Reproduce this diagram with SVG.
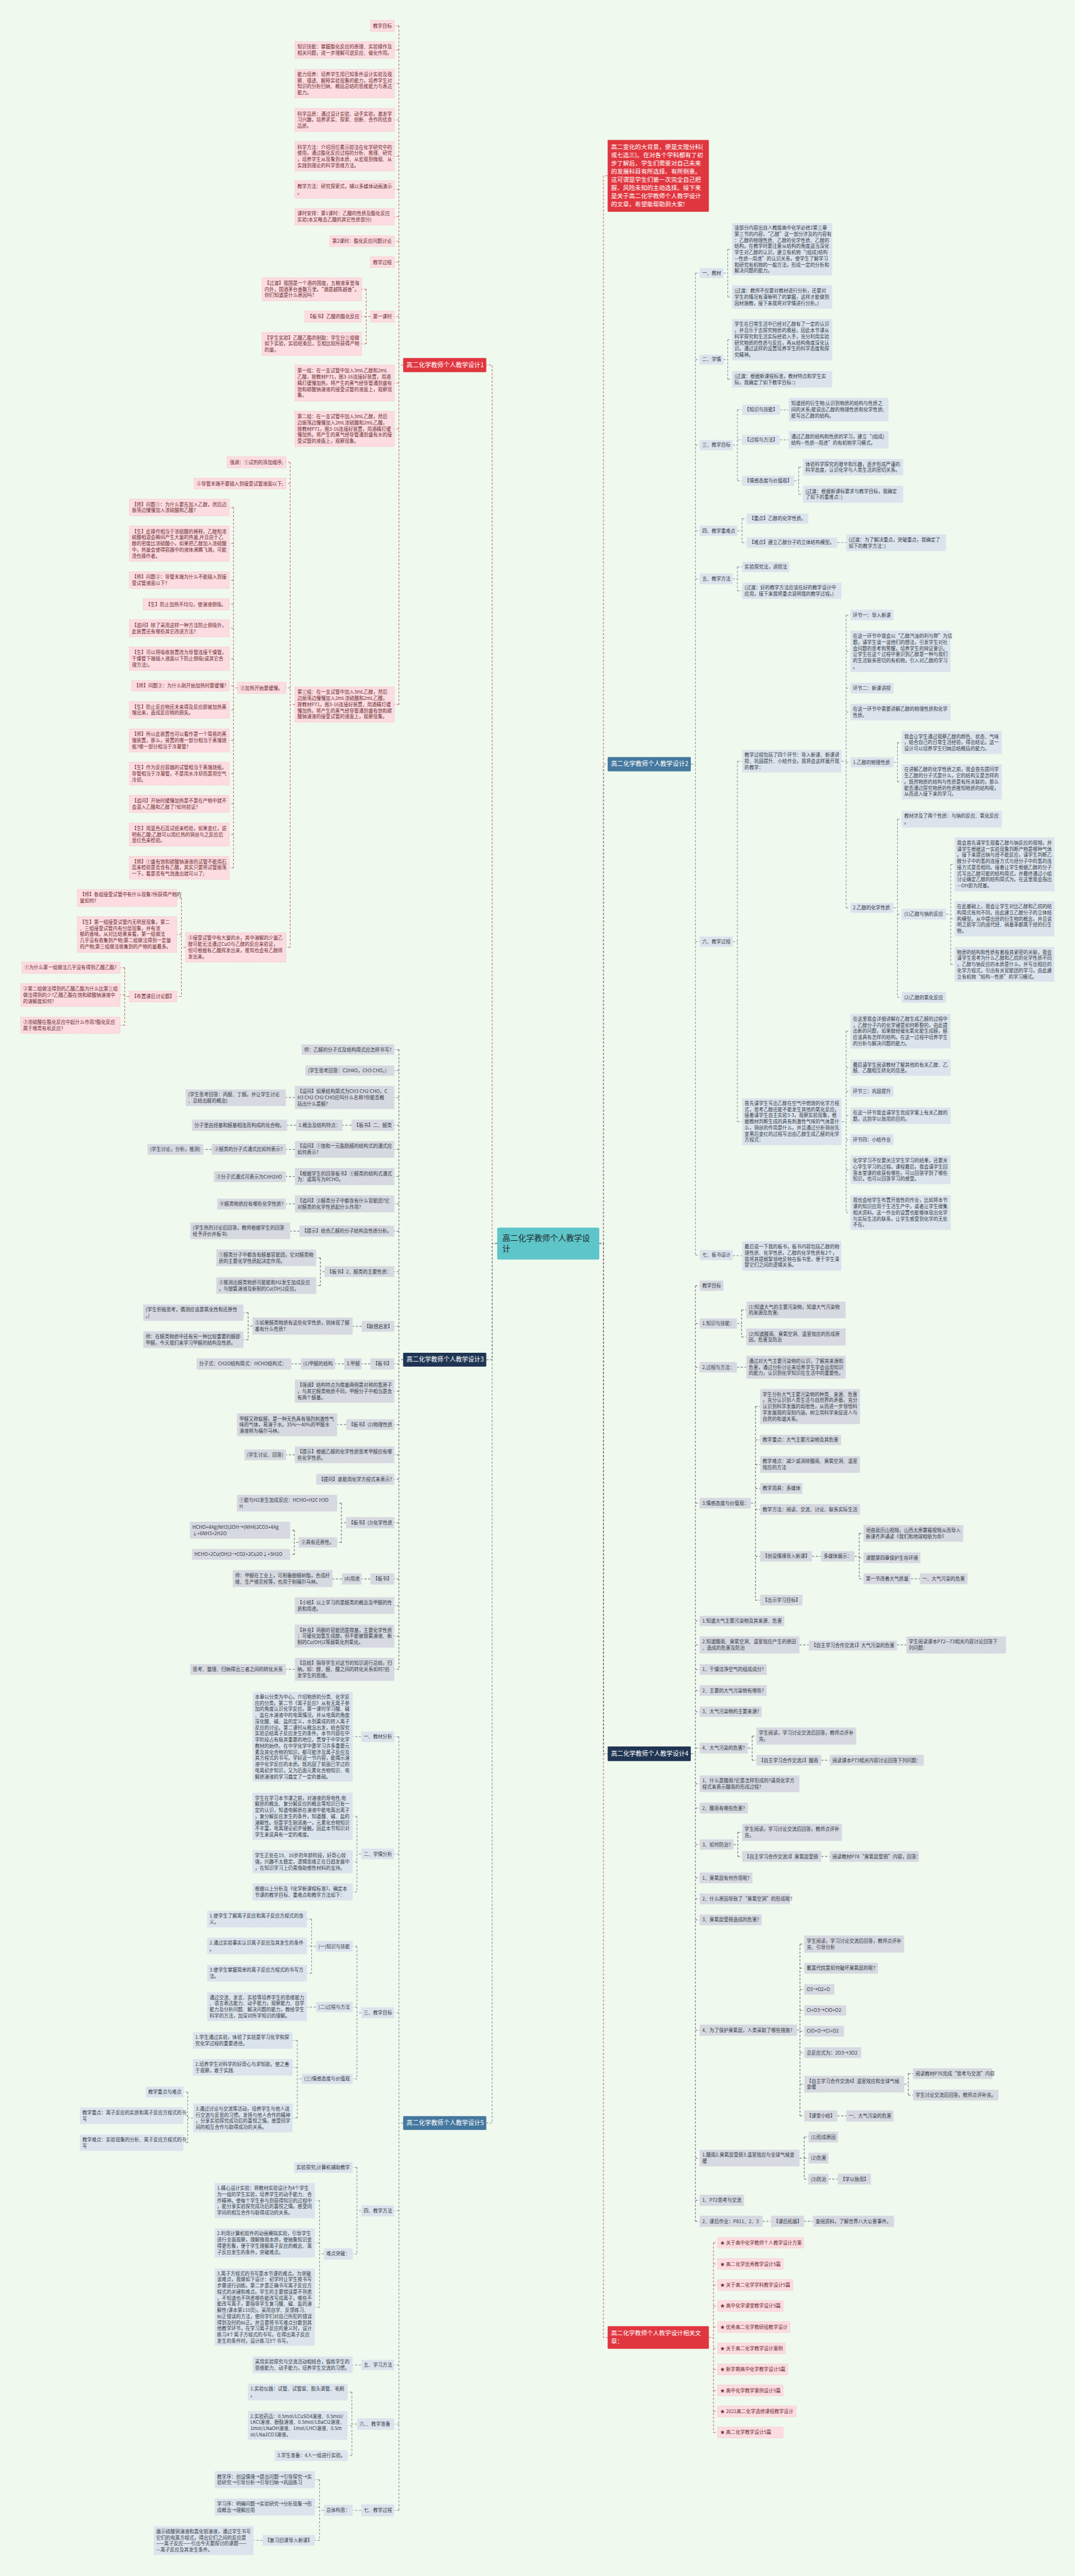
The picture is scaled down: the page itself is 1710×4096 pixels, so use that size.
<svg xmlns="http://www.w3.org/2000/svg" width="1710" height="4096" viewBox="0 0 1710 4096">
<style>
text{font-family:"Noto Sans CJK SC","Noto Sans",sans-serif;font-size:11.3px}
.p rect{fill:#fcdce1;stroke:#f4b9c2;stroke-width:1;stroke-dasharray:3 2}
.p text{fill:#6b2a2e}
.g rect{fill:#d6d9e0;stroke:#eef0f4;stroke-dasharray:3 2}
.g text{fill:#333a45}
.s rect{fill:#dbe4ec;stroke:#f0f4f8;stroke-dasharray:3 2}
.s text{fill:#333a45}
.m text{fill:#fff;font-size:14.7px}
#connectors path{fill:none;stroke-width:1.4;stroke-dasharray:5 4}
.cr{stroke:#c4505c}
.cn{stroke:#4f5869}
.cs{stroke:#6e8398}
</style>
<rect width="1710" height="4096" fill="#f0f9ee"/>
<g transform="scale(0.668)">
<g id="connectors">
<path class="cr" d="M1184 2960H1172V869H1158M1427 2960H1437V418.5H1447M1437 2960V5564H1447"/>
<path class="cn" d="M1184 2960H1172V3236.5H1158M1427 2960H1437V4174.5H1447"/>
<path class="cs" d="M1184 2960H1172V5053.5H1158M1427 2960H1437V1819H1447"/>
<path class="cr" d="M960 869H950M950 61.5V1677M950 61.5H939M950 119H939M950 199H939M950 285.5H939M950 372H939M950 451H939M950 516H939M950 574H939M950 624H939M950 753.5H939M950 912H939M950 1021H939M950 1677H939
M882 753.5H872M872 688.5V818.5M872 688.5H861M872 753.5H861M872 818.5H861
M702 1677H691M691 1100.5V2255M691 1100.5H681M691 1151H681M691 1637.5H681M691 2255H681
M566 1637.5H556M556 1208V2065.5M556 1208H546M556 1294H546M556 1381H546M556 1438.5H546M556 1495.5H546M556 1568H546M556 1632.5H546M556 1690H546M556 1762.5H546M556 1841.5H546M556 1913.5H546M556 1986.5H546M556 2065.5H546
M442 2255H432M432 2137.5V2372M432 2137.5H421M432 2224.5H421M432 2372H421
M308 2372H297M297 2303.5V2440.5M297 2303.5H286M297 2368H286M297 2440.5H286"/>
<path class="cn" d="M960 3236.5H950M950 2498.5V3973.5M950 2498.5H939M950 2548.5H939M950 2612.5H939M950 2678.5H939M950 2736H939M950 2800.5H939M950 2865.5H939M950 2930.5H939M950 3027H939M950 3157H939M950 3246.5H939M950 3311.5H939M950 3391H939M950 3463H939M950 3521H939M950 3624.5H939M950 3758.5H939M950 3822H939M950 3894.5H939M950 3973.5H939
M702 2612.5H681M837 2678.5H816M705 2678.5H684M702 2736H681M504 2736H484M702 2800.5H681M702 2865.5H681M713 2930.5H691
M773 3027H763M763 2994V3060M763 2994H753M763 3060H753
M861 3157H840M601 3156.5H591M591 3124.5V3189M591 3124.5H580M591 3189H580
M882 3246.5H861M819 3246.5H798M716 3246.5H694M824 3391H803M702 3463H681
M824 3624.5H813M813 3578V3671.5M813 3578H803M813 3671.5H803M711 3671.5H701M701 3642.5V3700M701 3642.5H691M701 3700H691
M882 3758.5H861M814 3758.5H792M702 3973.5H681"/>
<path class="cs" d="M960 5053.5H950M950 4134V5975.5M950 4134H939M950 4413H939M950 4791H939M950 5262.5H939M950 5629.5H939M950 5770H939M950 5975.5H939
M860 4134H840M860 4413H850M850 4323.5V4503.5M850 4323.5H840M850 4431.5H840M850 4503.5H840
M860 4791H850M850 4633V4948.5M850 4633H840M850 4777.5H840M850 4948.5H840
M752 4633H742M742 4568V4697M742 4568H731M742 4632H731M742 4697H731M752 4777.5H731
M718 4948.5H708M708 4857V5041.5M708 4857H697M708 4921H697M708 5041.5H697
M460 5041.5H447M447 4980V5100M447 4980H437M447 5036H437M447 5100H437
M860 5262.5H850M850 5159V5365M850 5159H840M850 5365H840M771 5365H761M761 5238V5492M761 5238H750M761 5339H750M761 5492H750
M860 5629.5H840M850 5770H838M838 5694V5845M838 5694H828M838 5773.5H828M838 5845H828
M860 5975.5H840M771 5975.5H761M761 5902.5V6047M761 5902.5H750M761 5967.5H750M761 6047H750M625 6047H604"/>
<path class="cs" d="M1645 1819H1656M1656 650V2987.5M1656 650H1666M1656 856H1666M1656 1059.5H1666M1656 1263.5H1666M1656 1378H1666M1656 2241.5H1666M1656 2987.5H1666
M1723 650H1733M1733 593.5V707M1733 593.5H1743M1733 707H1743M1723 856H1733M1733 808.5V903M1733 808.5H1743M1733 903H1743
M1745 1059.5H1756M1756 975.5V1144.5M1756 975.5H1767M1756 1047H1767M1756 1144.5H1767M1857 975.5H1878M1857 1047H1878M1891 1144.5H1902M1902 1112V1176.5M1902 1112H1912M1902 1176.5H1912
M1756 1263.5H1767M1767 1234.5V1291.5M1767 1234.5H1778M1767 1291.5H1778M1994 1291.5H2015
M1745 1378H1756M1756 1349.5V1406.5M1756 1349.5H1767M1756 1406.5H1767
M1745 2241.5H1756M1756 1812V2670M1756 1812H1767M1756 2670H1767
M2004 1812H2015M2015 1464V2161M2015 1464H2025M2015 1550.5H2025M2015 1638H2025M2015 1695H2025M2015 1814.5H2025M2015 2161H2025
M2128 1814.5H2137M2137 1767.5V1861M2137 1767.5H2147M2137 1861H2147
M2128 2161H2137M2137 1950V2374M2137 1950H2147M2137 2176H2147M2137 2374H2147
M2253 2176H2264M2264 2057.5V2295.5M2264 2057.5H2273M2264 2187H2273M2264 2295.5H2273
M2004 2670H2015M2015 2454.5V2886.5M2015 2454.5H2025M2015 2541.5H2025M2015 2598H2025M2015 2656H2025M2015 2713H2025M2015 2784.5H2025M2015 2886.5H2025
M1745 2989H1767"/>
<path class="cn" d="M1645 4174.5H1656M1656 3060.5V5287.5M1656 3060.5H1666M1656 3150.5H1666M1656 3254.5H1666M1656 3578H1666M1656 3858.5H1666M1656 3915.5H1666M1656 3974H1666M1656 4024H1666M1656 4074.5H1666M1656 4161H1666M1656 4246H1666M1656 4304H1666M1656 4390.5H1666M1656 4470H1666M1656 4520H1666M1656 4570H1666M1656 4832.5H1666M1656 5137H1666M1656 5237.5H1666M1656 5287.5H1666
M1755 3150.5H1766M1766 3118V3182.5M1766 3118H1777M1766 3182.5H1777M1755 3254.5H1777
M1788 3578H1799M1799 3348V3809M1799 3348H1810M1799 3427.5H1810M1799 3486H1810M1799 3543H1810M1799 3593H1810M1799 3704.5H1810M1799 3809H1810
M1934 3704.5H1955M2035 3704.5H2046M2046 3650V3758M2046 3650H2056M2046 3708H2056M2046 3758H2056M2169 3758H2190
M1904 3915.5H1926M2136 3915.5H2158
M1781 4161H1791M1791 4132.5V4190M1791 4132.5H1801M1791 4190H1801M1956 4190H1976
M1747 4390.5H1757M1757 4361.5V4419M1757 4361.5H1767M1757 4419H1767M1956 4419H1976
M1898 4832.5H1905M1905 4627.5V5036.5M1905 4627.5H1915M1905 4685H1915M1905 4735.5H1915M1905 4785.5H1915M1905 4835H1915M1905 4886H1915M1905 4961H1915M1905 5036.5H1915
M2153 4961H2163M2163 4936V4987M2163 4936H2174M2163 4987H2174M1994 5036.5H2015
M1904 5137H1915M1915 5087V5187M1915 5087H1925M1915 5137H1925M1915 5187H1925M1973 5187H1995
M1816 5287.5H1836M1915 5287.5H1936"/>
<path class="cr" d="M1688 5564H1699M1699 5338.5V5790M1699 5338.5H1709M1699 5389H1709M1699 5439H1709M1699 5489H1709M1699 5539H1709M1699 5590H1709M1699 5640H1709M1699 5690H1709M1699 5740H1709M1699 5790H1709"/>
</g>

<g id="center"><rect x="1184" y="2922" width="243" height="76" rx="3" fill="#5ec5c9"/><text x="1196" y="2954" fill="#1e2a30" style="font-size:19px">高二化学教师个人教学设<tspan x="1196" dy="25">计</tspan></text></g>

<g id="intro"><rect x="1447" y="333" width="241" height="171" rx="2" fill="#e0363f"/><text fill="#fff" style="font-size:14.3px" x="1455" y="355"><tspan x="1455">高二变化的大背景，便是文理分科(</tspan><tspan x="1455" dy="19.5">或七选三)。在对各个学科都有了初</tspan><tspan x="1455" dy="19.5">步了解后，学生们需要对自己未来</tspan><tspan x="1455" dy="19.5">的发展科目有所选择、有所侧重。</tspan><tspan x="1455" dy="19.5">这可谓是学生们第一次完全自己把</tspan><tspan x="1455" dy="19.5">握、风险未知的主动选择。接下来</tspan><tspan x="1455" dy="19.5">是关于高二化学教师个人教学设计</tspan><tspan x="1455" dy="19.5">的文章，希望能帮助到大家!</tspan></text></g>

<!-- Branch 1 -->
<g id="b1" class="m"><rect x="960" y="852" width="198" height="34" rx="2" fill="#e0363f"/><text x="968" y="874">高二化学教师个人教学设计1</text></g>
<g class="p">
<g id="b1-1"><rect x="882" y="48" width="57" height="27"/><text x="888" y="65.5">教学目标</text></g>
<g id="b1-2"><rect x="702" y="99" width="237" height="40"/><text x="708" y="115.7">知识技能：掌握酯化反应的原理、实验操作及<tspan x="708" dy="14.6">相关问题，进一步理解可逆反应、催化作用。</tspan></text></g>
<g id="b1-3"><rect x="702" y="165" width="237" height="68"/><text x="708" y="181.1">能力培养：培养学生用已知条件设计实验及观<tspan x="708" dy="14.6">察、描述、解释实验现象的能力，培养学生对</tspan><tspan x="708" dy="14.6">知识的分析归纳、概括总结的思维能力与表达</tspan><tspan x="708" dy="14.6">能力。</tspan></text></g>
<g id="b1-4"><rect x="702" y="258" width="237" height="55"/><text x="708" y="275">科学品质：通过设计实验、动手实验，激发学<tspan x="708" dy="14.6">习兴趣，培养求实、探索、创新、合作的优良</tspan><tspan x="708" dy="14.6">品质。</tspan></text></g>
<g id="b1-5"><rect x="702" y="337" width="237" height="70"/><text x="708" y="354.1">科学方法：介绍同位素示踪法在化学研究中的<tspan x="708" dy="14.6">使用，通过酯化反应过程的分析、推理、研究</tspan><tspan x="708" dy="14.6">，培养学生从现象到本质、从宏观到微观、从</tspan><tspan x="708" dy="14.6">实践到理论的科学思维方法。</tspan></text></g>
<g id="b1-6"><rect x="702" y="430" width="237" height="42"/><text x="708" y="447.7">教学方法：研究探索式，辅以多媒体动画演示<tspan x="708" dy="14.6">。</tspan></text></g>
<g id="b1-7"><rect x="702" y="496" width="237" height="40"/><text x="708" y="512.7">课时安排：第1课时：乙酸的性质及酯化反应<tspan x="708" dy="14.6">实验(本文略去乙酸的其它性质部分)</tspan></text></g>
<g id="b1-8"><rect x="785" y="561" width="154" height="26"/><text x="791" y="578">第2课时：酯化反应问题讨论</text></g>
<g id="b1-9"><rect x="882" y="611" width="57" height="26"/><text x="888" y="628">教学过程</text></g>
<g id="b1-10"><rect x="882" y="740" width="57" height="27"/><text x="888" y="757.5">第一课时</text></g>
<g id="b1-10a"><rect x="624" y="661" width="237" height="55"/><text x="630" y="678">【过渡】我国是一个酒的国度，五粮液享誉海<tspan x="630" dy="14.6">内外，国酒茅台香飘万里。“酒是越陈越香”。</tspan><tspan x="630" dy="14.6">你们知道是什么原因吗?</tspan></text></g>
<g id="b1-10b"><rect x="726" y="740" width="135" height="27"/><text x="732" y="757.5">【板书】乙酸的酯化反应</text></g>
<g id="b1-10c"><rect x="624" y="791" width="237" height="55"/><text x="630" y="808">【学生实验】乙酸乙酯的制取：学生分三组做<tspan x="630" dy="14.6">如下实验，实验结束后，互相比较所获得产物</tspan><tspan x="630" dy="14.6">的量。</tspan></text></g>
<g id="b1-11"><rect x="702" y="869" width="237" height="86"/><text x="708" y="886.8">第一组：在一支试管中加入3mL乙醇和2mL<tspan x="708" dy="14.6">乙酸，按教材P71，图3-16连接好装置，用酒</tspan><tspan x="708" dy="14.6">精灯缓慢加热，将产生的蒸气经导管通到盛有</tspan><tspan x="708" dy="14.6">饱和碳酸钠溶液的接受试管的液面上，观察现</tspan><tspan x="708" dy="14.6">象。</tspan></text></g>
<g id="b1-12"><rect x="702" y="979" width="237" height="84"/><text x="708" y="995.8">第二组：在一支试管中加入3mL乙醇，然后<tspan x="708" dy="14.6">边振荡边慢慢加入2mL浓硫酸和2mL乙酸，</tspan><tspan x="708" dy="14.6">按教材P71，图3-16连接好装置，用酒精灯缓</tspan><tspan x="708" dy="14.6">慢加热，将产生的蒸气经导管通到盛有水的接</tspan><tspan x="708" dy="14.6">受试管的液面上，观察现象。</tspan></text></g>
<g id="b1-13"><rect x="702" y="1635" width="237" height="84"/><text x="708" y="1651.8">第三组：在一支试管中加入3mL乙醇，然后<tspan x="708" dy="14.6">边振荡边慢慢加入2mL浓硫酸和2mL乙酸，</tspan><tspan x="708" dy="14.6">按教材P71，图3-16连接好装置，用酒精灯缓</tspan><tspan x="708" dy="14.6">慢加热，将产生的蒸气经导管通到盛有饱和碳</tspan><tspan x="708" dy="14.6">酸钠溶液的接受试管的液面上，观察现象。</tspan></text></g>
<g id="b1-13a"><rect x="541" y="1087" width="140" height="27"/><text x="547" y="1104.5">强调：①试剂的添加顺序;</text></g>
<g id="b1-13b"><rect x="462" y="1138" width="219" height="26"/><text x="468" y="1155">②导管末端不要插入到接受试管液面以下;</text></g>
<g id="b1-13c"><rect x="566" y="1624" width="115" height="27"/><text x="572" y="1641.5">③加热开始要缓慢。</text></g>
<g id="b1-c1"><rect x="308" y="1188" width="238" height="40"/><text x="314" y="1204.7">【师】问题①：为什么要先加入乙醇，然后边<tspan x="314" dy="14.6">振荡边慢慢加入浓硫酸和乙酸?</tspan></text></g>
<g id="b1-c2"><rect x="308" y="1252" width="238" height="84"/><text x="314" y="1268.8">【生】此操作相当于浓硫酸的稀释，乙醇和浓<tspan x="314" dy="14.6">硫酸相混会瞬间产生大量的热量,并且由于乙</tspan><tspan x="314" dy="14.6">醇的密度比浓硫酸小，如果把乙醇加入浓硫酸</tspan><tspan x="314" dy="14.6">中，热量会使得容器中的液体沸腾飞溅，可能</tspan><tspan x="314" dy="14.6">烫伤操作者。</tspan></text></g>
<g id="b1-c3"><rect x="308" y="1361" width="238" height="40"/><text x="314" y="1377.7">【师】问题②：导管末端为什么不能插入到接<tspan x="314" dy="14.6">受试管液面以下?</tspan></text></g>
<g id="b1-c4"><rect x="341" y="1425" width="205" height="27"/><text x="347" y="1442.5">【生】防止加热不均匀，使溶液倒吸。</text></g>
<g id="b1-c5"><rect x="308" y="1475" width="238" height="41"/><text x="314" y="1492.2">【追问】除了采用这样一种方法防止倒吸外，<tspan x="314" dy="14.6">此装置还有哪些其它改进方法?</tspan></text></g>
<g id="b1-c6"><rect x="308" y="1540" width="238" height="56"/><text x="314" y="1557.4">【生】可以将吸收装置改为导管连接干燥管，<tspan x="314" dy="14.6">干燥管下端插入液面以下防止倒吸(或其它合</tspan><tspan x="314" dy="14.6">理方法)。</tspan></text></g>
<g id="b1-c7"><rect x="313" y="1620" width="233" height="25"/><text x="319" y="1636.5">【师】问题③：为什么刚开始加热时要缓慢?</text></g>
<g id="b1-c8"><rect x="308" y="1670" width="238" height="40"/><text x="314" y="1686.7">【生】防止反应物还未来得及反应即被加热蒸<tspan x="314" dy="14.6">馏出来，造成反应物的损失。</tspan></text></g>
<g id="b1-c9"><rect x="308" y="1735" width="238" height="55"/><text x="314" y="1752">【师】所以此装置也可以看作是一个简易的蒸<tspan x="314" dy="14.6">馏装置，那么，装置的哪一部分相当于蒸馏烧</tspan><tspan x="314" dy="14.6">瓶?哪一部分相当于冷凝管?</tspan></text></g>
<g id="b1-c10"><rect x="308" y="1814" width="238" height="55"/><text x="314" y="1831">【生】作为反应容器的试管相当于蒸馏烧瓶，<tspan x="314" dy="14.6">导管相当于冷凝管，不是用水冷却而是用空气</tspan><tspan x="314" dy="14.6">冷却。</tspan></text></g>
<g id="b1-c11"><rect x="308" y="1893" width="238" height="41"/><text x="314" y="1910.2">【追问】开始时缓慢加热是不是在产物中就不<tspan x="314" dy="14.6">会混入乙酸和乙醇了?如何验证?</tspan></text></g>
<g id="b1-c12"><rect x="308" y="1959" width="238" height="55"/><text x="314" y="1976">【生】用蓝色石蕊试纸来检验，如果变红，说<tspan x="314" dy="14.6">明有乙酸;乙醇可以用红热的铜丝与之反应后</tspan><tspan x="314" dy="14.6">显红色来检验。</tspan></text></g>
<g id="b1-c13"><rect x="308" y="2038" width="238" height="55"/><text x="314" y="2055">【师】①盛有饱和碳酸钠溶液的试管不能用石<tspan x="314" dy="14.6">蕊来检验是否含有乙酸，其实只要将试管振荡</tspan><tspan x="314" dy="14.6">一下，看是否有气泡逸出就可以了;</tspan></text></g>
<g id="b1-13d"><rect x="442" y="2220" width="239" height="70"/><text x="448" y="2237.1">②接受试管中有大量的水，其中溶解的少量乙<tspan x="448" dy="14.6">醇可能无法通过CuO与乙醇的反应来验证，</tspan><tspan x="448" dy="14.6">但可根据有乙酸挥发出来，推知也会有乙醇挥</tspan><tspan x="448" dy="14.6">发出来。</tspan></text></g>
<g id="b1-d1"><rect x="184" y="2117" width="237" height="41"/><text x="190" y="2133.7">【师】各组接受试管中有什么现象?所获得产物的<tspan x="190" dy="14.6">量如何?</tspan></text></g>
<g id="b1-d2"><rect x="184" y="2182" width="237" height="85"/><text x="190" y="2198.8">【生】第一组接受试管内无明显现象，第二<tspan x="190" dy="14.6">、三组接受试管内有分层现象，并有浓</tspan><tspan x="190" dy="14.6">郁的香味。从对比结果来看，第一组做法</tspan><tspan x="190" dy="14.6">几乎没有收集到产物;第二组做法得到一定量</tspan><tspan x="190" dy="14.6">的产物;第三组做法收集到的产物的量最多。</tspan></text></g>
<g id="b1-d3"><rect x="308" y="2359" width="113" height="26"/><text x="314" y="2376">【布置课后讨论题】</text></g>
<g id="b1-d3a"><rect x="52" y="2290" width="234" height="27"/><text x="58" y="2307.5">①为什么第一组做法几乎没有得到乙酸乙酯?</text></g>
<g id="b1-d3b"><rect x="49" y="2341" width="237" height="55"/><text x="55" y="2358">②第二组做法得到的乙酸乙酯为什么比第三组<tspan x="55" dy="14.6">做法得到的少?乙酸乙酯在饱和碳酸钠溶液中</tspan><tspan x="55" dy="14.6">的溶解度如何?</tspan></text></g>
<g id="b1-d3c"><rect x="49" y="2421" width="237" height="39"/><text x="55" y="2437.2">③浓硫酸在酯化反应中起什么作用?酯化反应<tspan x="55" dy="14.6">属于哪类有机反应?</tspan></text></g>
</g>

<!-- Branch 3 -->
<g id="b3" class="m"><rect x="960" y="3220" width="198" height="33" rx="2" fill="#1f3553"/><text x="968" y="3241.5">高二化学教师个人教学设计3</text></g>
<g class="g">
<g id="b3-1"><rect x="718" y="2486" width="221" height="25"/><text x="724" y="2502.5">师：乙醛的分子式及结构简式应怎样书写?</text></g>
<g id="b3-2"><rect x="727" y="2536" width="212" height="25"/><text x="733" y="2552.5">(学生思考回答：C2H4O，CH3 CHO。)</text></g>
<g id="b3-3"><rect x="702" y="2585" width="237" height="55"/><text x="708" y="2602">【设问】如果结构简式为CH3 CH2 CHO，C<tspan x="708" dy="14.6">H3 CH2 CH2 CHO应叫什么名称?你能否概</tspan><tspan x="708" dy="14.6">括出什么是醛?</tspan></text></g>
<g id="b3-3c"><rect x="442" y="2593" width="239" height="40"/><text x="448" y="2609.7">(学生思考回答：丙醛、丁醛。并让学生讨论<tspan x="448" dy="14.6">、总结出醛的概念)</tspan></text></g>
<g id="b3-4"><rect x="837" y="2665" width="102" height="27"/><text x="843" y="2682.5">【板书】二、醛类</text></g>
<g id="b3-4c"><rect x="705" y="2665" width="111" height="27"/><text x="711" y="2682.5">1.概念及结构特点：</text></g>
<g id="b3-4cc"><rect x="457" y="2665" width="227" height="27"/><text x="463" y="2682.5">分子里由烃基和醛基相连而构成的化合物。</text></g>
<g id="b3-5"><rect x="702" y="2716" width="237" height="40"/><text x="708" y="2732.7">【设问】①饱和一元脂肪醛的结构式的通式应<tspan x="708" dy="14.6">如何表示?</tspan></text></g>
<g id="b3-5c"><rect x="504" y="2723" width="177" height="26"/><text x="510" y="2740">②醛类的分子式通式应如何表示?</text></g>
<g id="b3-5cc"><rect x="351" y="2723" width="133" height="26"/><text x="357" y="2740">(学生讨论，分析，推测)</text></g>
<g id="b3-6"><rect x="702" y="2780" width="237" height="41"/><text x="708" y="2797.2">【根据学生的回答板书】①醛类的结构式通式<tspan x="708" dy="14.6">为：或简写为RCHO。</tspan></text></g>
<g id="b3-6c"><rect x="509" y="2788" width="172" height="26"/><text x="515" y="2805">②分子式通式可表示为CnH2nO</text></g>
<g id="b3-7"><rect x="702" y="2845" width="237" height="41"/><text x="708" y="2862.2">【追问】③醛类分子中都含有什么官能团?它<tspan x="708" dy="14.6">对醛类的化学性质起什么作用?</tspan></text></g>
<g id="b3-7c"><rect x="517" y="2853" width="164" height="26"/><text x="523" y="2870">④醛类物质应有哪些化学性质?</text></g>
<g id="b3-8"><rect x="713" y="2917" width="226" height="27"/><text x="719" y="2934.5">【提示】结合乙醛的分子结构及性质分析。</text></g>
<g id="b3-8c"><rect x="453" y="2910" width="238" height="40"/><text x="459" y="2926.7">(学生热烈讨论后回答，教师根据学生的回答<tspan x="459" dy="14.6">给予评价并板书)</tspan></text></g>
<g id="b3-9"><rect x="773" y="3014" width="166" height="26"/><text x="779" y="3031">【板书】2、醛类的主要性质：</text></g>
<g id="b3-9a"><rect x="515" y="2974" width="238" height="40"/><text x="521" y="2990.7">①醛类分子中都含有醛基官能团，它对醛类物<tspan x="521" dy="14.6">质的主要化学性质起决定作用。</tspan></text></g>
<g id="b3-9b"><rect x="515" y="3040" width="238" height="40"/><text x="521" y="3056.7">②推测出醛类物质可能能和H2发生加成反应<tspan x="521" dy="14.6">，与银氨溶液及新制的Cu(OH)2反应。</tspan></text></g>
<g id="b3-10"><rect x="861" y="3144" width="78" height="26"/><text x="867" y="3161">【联想启发】</text></g>
<g id="b3-10c"><rect x="601" y="3136" width="239" height="41"/><text x="607" y="3153.2">⑤如果醛类物质有这些化学性质，则体现了醛<tspan x="607" dy="14.6">基有什么性质?</tspan></text></g>
<g id="b3-10a"><rect x="341" y="3105" width="239" height="39"/><text x="347" y="3121.2">(学生积极思考，猜测应该是氧化性和还原性<tspan x="347" dy="14.6">。)</tspan></text></g>
<g id="b3-10b"><rect x="341" y="3169" width="239" height="40"/><text x="347" y="3185.7">师：在醛类物质中还有另一种比较重要的醛即<tspan x="347" dy="14.6">甲醛，今天我们来学习甲醛的结构及性质。</tspan></text></g>
<g id="b3-11"><rect x="882" y="3233" width="57" height="27"/><text x="888" y="3250.5">【板书】</text></g>
<g id="b3-11a"><rect x="819" y="3233" width="42" height="27"/><text x="825" y="3250.5">3.甲醛</text></g>
<g id="b3-11b"><rect x="716" y="3233" width="82" height="27"/><text x="722" y="3250.5">(1)甲醛的结构</text></g>
<g id="b3-11c"><rect x="468" y="3233" width="226" height="27"/><text x="474" y="3250.5">分子式：CH2O结构简式：HCHO结构式：</text></g>
<g id="b3-12"><rect x="702" y="3284" width="237" height="55"/><text x="708" y="3301">【强调】结构特点为羰基两侧是对称的氢原子<tspan x="708" dy="14.6">，与其它醛类物质不同，甲醛分子中相当是含</tspan><tspan x="708" dy="14.6">有两个醛基。</tspan></text></g>
<g id="b3-13"><rect x="824" y="3378" width="115" height="26"/><text x="830" y="3395">【板书】(2)物理性质</text></g>
<g id="b3-13c"><rect x="564" y="3364" width="239" height="55"/><text x="570" y="3381">甲醛又称蚁醛，是一种无色具有强烈刺激性气<tspan x="570" dy="14.6">味的气体，易溶于水。35%～40%的甲醛水</tspan><tspan x="570" dy="14.6">溶液称为福尔马林。</tspan></text></g>
<g id="b3-14"><rect x="702" y="3443" width="237" height="40"/><text x="708" y="3459.7">【提示】根据乙醛的化学性质思考甲醛应有哪<tspan x="708" dy="14.6">些化学性质。</tspan></text></g>
<g id="b3-14c"><rect x="582" y="3450" width="99" height="26"/><text x="588" y="3467">(学生讨论、回答)</text></g>
<g id="b3-15"><rect x="753" y="3508" width="186" height="26"/><text x="759" y="3525">【提问】谁能用化学方程式来表示?</text></g>
<g id="b3-16"><rect x="824" y="3611" width="115" height="27"/><text x="830" y="3628.5">【板书】(3)化学性质</text></g>
<g id="b3-16a"><rect x="564" y="3558" width="239" height="40"/><text x="570" y="3574.7">①能与H2发生加成反应：HCHO+H2C H3O<tspan x="570" dy="14.6">H</tspan></text></g>
<g id="b3-16b"><rect x="711" y="3659" width="92" height="25"/><text x="717" y="3675.5">②具有还原性。</text></g>
<g id="b3-16b1"><rect x="452" y="3622" width="239" height="41"/><text x="458" y="3639.2">HCHO+4Ag(NH3)2OH→(NH4)2CO3+4Ag<tspan x="458" dy="14.6">↓+6NH3+2H2O</tspan></text></g>
<g id="b3-16b2"><rect x="457" y="3687" width="234" height="26"/><text x="463" y="3704">HCHO+2Cu(OH)2→CO2+2Cu2O↓+5H2O</text></g>
<g id="b3-17"><rect x="882" y="3745" width="57" height="27"/><text x="888" y="3762.5">【板书】</text></g>
<g id="b3-17a"><rect x="814" y="3745" width="47" height="27"/><text x="820" y="3762.5">(4)用途</text></g>
<g id="b3-17b"><rect x="554" y="3737" width="238" height="41"/><text x="560" y="3754.2">师：甲醛在工业上，可制备酚醛树脂，合成纤<tspan x="560" dy="14.6">维、生产维尼纶等，也用于制福尔马林。</tspan></text></g>
<g id="b3-18"><rect x="702" y="3802" width="237" height="40"/><text x="708" y="3818.7">【小结】以上学习的是醛类的概念及甲醛的性<tspan x="708" dy="14.6">质和用途。</tspan></text></g>
<g id="b3-19"><rect x="702" y="3867" width="237" height="55"/><text x="708" y="3884">【补充】丙酮的官能团是羰基，主要化学性质<tspan x="708" dy="14.6">：可催化加氢生成醇，但不能被银氨溶液、新</tspan><tspan x="708" dy="14.6">制的Cu(OH)2等弱氧化剂氧化。</tspan></text></g>
<g id="b3-20"><rect x="702" y="3946" width="237" height="55"/><text x="708" y="3963">【总结】指导学生对这节的知识进行总结，归<tspan x="708" dy="14.6">纳。如：醇、醛、酸之间的转化关系如何?启</tspan><tspan x="708" dy="14.6">发学生的思维。</tspan></text></g>
<g id="b3-20c"><rect x="453" y="3961" width="228" height="26"/><text x="459" y="3978">思考、整理、归纳得出三者之间的转化关系</text></g>
</g>

<!-- Branch 5 -->
<g id="b5" class="m"><rect x="960" y="5037" width="198" height="33" rx="2" fill="#44789e"/><text x="968" y="5058.5">高二化学教师个人教学设计5</text></g>
<g class="s">
<g id="b5-1"><rect x="860" y="4121" width="79" height="26"/><text x="866" y="4138">一、教材分析</text></g>
<g id="b5-1c"><rect x="601" y="4027" width="239" height="214"/><text x="607" y="4043.1">本章以分类为中心，介绍物质的分类、化学反<tspan x="607" dy="14.6">应的分类。第二节《离子反应》从有无离子参</tspan><tspan x="607" dy="14.6">加的角度认识化学反应。第一课时学习酸、碱</tspan><tspan x="607" dy="14.6">、盐在水溶液中的电离情况，并从电离的角度</tspan><tspan x="607" dy="14.6">深化酸、碱、盐的定义，水到渠成的转入离子</tspan><tspan x="607" dy="14.6">反应的讨论。第二课时从概念出发，结合探究</tspan><tspan x="607" dy="14.6">实验总结离子反应发生的条件。本节内容在中</tspan><tspan x="607" dy="14.6">学阶段占有极其重要的地位，贯穿于中学化学</tspan><tspan x="607" dy="14.6">教材的始终。在中学化学中要学习许多重要元</tspan><tspan x="607" dy="14.6">素及其化合物的知识，都可能涉及离子反应及</tspan><tspan x="607" dy="14.6">其方程式的书写。学好这一节内容，能揭示溶</tspan><tspan x="607" dy="14.6">液中化学反应的本质。既巩固了前面已学过的</tspan><tspan x="607" dy="14.6">电离初步知识，又为后面元素化合物知识、电</tspan><tspan x="607" dy="14.6">解质溶液的学习奠定了一定的基础。</tspan></text></g>
<g id="b5-2"><rect x="860" y="4400" width="79" height="26"/><text x="866" y="4417">二、学情分析</text></g>
<g id="b5-2a"><rect x="601" y="4267" width="239" height="113"/><text x="607" y="4283.7">学生在学习本节课之前，对溶液的导电性,电<tspan x="607" dy="14.6">解质的概念、复分解反应的概念等知识已有一</tspan><tspan x="607" dy="14.6">定的认识，知道电解质在溶液中能电离出离子</tspan><tspan x="607" dy="14.6">，复分解反应发生的条件，知道酸、碱、盐的</tspan><tspan x="607" dy="14.6">溶解性。但是学生刚进高一，元素化合物知识</tspan><tspan x="607" dy="14.6">不丰富，电离理论初步接触，因此本节知识对</tspan><tspan x="607" dy="14.6">学生来说具有一定的难度。</tspan></text></g>
<g id="b5-2b"><rect x="601" y="4404" width="239" height="55"/><text x="607" y="4421">学生正处在15、16岁的年龄阶段，好奇心较<tspan x="607" dy="14.6">强，兴趣不太稳定，逻辑思维正在日趋发展中</tspan><tspan x="607" dy="14.6">，在知识学习上仍需借助感性材料的支持。</tspan></text></g>
<g id="b5-2c"><rect x="601" y="4483" width="239" height="41"/><text x="607" y="4500.2">根据以上分析及《化学新课程标准》，确定本<tspan x="607" dy="14.6">节课的教学目标、重难点和教学方法如下：</tspan></text></g>
<g id="b5-3"><rect x="860" y="4778" width="79" height="26"/><text x="866" y="4795">三、教学目标</text></g>
<g id="b5-3a"><rect x="752" y="4620" width="88" height="26"/><text x="758" y="4637">(一)知识与技能</text></g>
<g id="b5-3a1"><rect x="493" y="4548" width="238" height="40"/><text x="499" y="4564.7">1.使学生了解离子反应和离子反应方程式的含<tspan x="499" dy="14.6">义。</tspan></text></g>
<g id="b5-3a2"><rect x="493" y="4612" width="238" height="40"/><text x="499" y="4628.7">2.通过实验事实认识离子反应及其发生的条件<tspan x="499" dy="14.6">。</tspan></text></g>
<g id="b5-3a3"><rect x="493" y="4677" width="238" height="40"/><text x="499" y="4693.7">3.使学生掌握简单的离子反应方程式的书写方<tspan x="499" dy="14.6">法。</tspan></text></g>
<g id="b5-3b"><rect x="752" y="4765" width="88" height="25"/><text x="758" y="4781.5">(二)过程与方法</text></g>
<g id="b5-3b1"><rect x="493" y="4742" width="238" height="69"/><text x="499" y="4758.6">通过交流、发言、实验等培养学生的思维能力<tspan x="499" dy="14.6">、语言表达能力、动手能力，观察能力、自学</tspan><tspan x="499" dy="14.6">能力及分析问题、解决问题的能力，教给学生</tspan><tspan x="499" dy="14.6">科学的方法，加深对所学知识的理解。</tspan></text></g>
<g id="b5-3c"><rect x="718" y="4936" width="122" height="25"/><text x="724" y="4952.5">(三)情感态度与价值观</text></g>
<g id="b5-3c1"><rect x="459" y="4837" width="238" height="40"/><text x="465" y="4853.7">1.学生通过实验，体验了实验是学习化学和探<tspan x="465" dy="14.6">究化学过程的重要途径。</tspan></text></g>
<g id="b5-3c2"><rect x="459" y="4901" width="238" height="40"/><text x="465" y="4917.7">2.培养学生对科学的好奇心与求知欲，使之善<tspan x="465" dy="14.6">于观察，敢于实践.</tspan></text></g>
<g id="b5-3c3"><rect x="460" y="5007" width="237" height="69"/><text x="466" y="5023.6">3.通过讨论与交流等活动，培养学生与他人进<tspan x="466" dy="14.6">行交流与反思的习惯。发扬与他人合作的精神</tspan><tspan x="466" dy="14.6">，分享实验探究成功后的喜悦之情。感受同学</tspan><tspan x="466" dy="14.6">间的相互合作与取得成功的关系。</tspan></text></g>
<g id="b5-3c3a"><rect x="347" y="4967" width="90" height="26"/><text x="353" y="4984">教学重点与难点</text></g>
<g id="b5-3c3b"><rect x="190" y="5016" width="247" height="40"/><text x="196" y="5032.7">教学重点：离子反应的实质和离子反应方程式的书<tspan x="196" dy="14.6">写</tspan></text></g>
<g id="b5-3c3c"><rect x="190" y="5081" width="247" height="39"/><text x="196" y="5097.2">教学难点：实验现象的分析、离子反应方程式的书<tspan x="196" dy="14.6">写</tspan></text></g>
<g id="b5-4"><rect x="860" y="5249" width="79" height="27"/><text x="866" y="5266.5">四、教学方法</text></g>
<g id="b5-4a"><rect x="700" y="5146" width="140" height="26"/><text x="706" y="5163">实验探究;计算机辅助教学</text></g>
<g id="b5-4b"><rect x="771" y="5351" width="69" height="28"/><text x="777" y="5369">难点突破：</text></g>
<g id="b5-4b1"><rect x="511" y="5196" width="239" height="84"/><text x="517" y="5212.8">1.精心设计实验：将教材实验设计为4个学生<tspan x="517" dy="14.6">为一组的学生实验，培养学生的动手能力、合</tspan><tspan x="517" dy="14.6">作精神。使每个学生参与到获得知识的过程中</tspan><tspan x="517" dy="14.6">，能分享实验探究成功后的喜悦之情。感受同</tspan><tspan x="517" dy="14.6">学间的相互合作与取得成功的关系。</tspan></text></g>
<g id="b5-4b2"><rect x="511" y="5304" width="239" height="70"/><text x="517" y="5321.1">2.利用计算机软件的动画模拟实验，引导学生<tspan x="517" dy="14.6">进行全面观察，理解微观本质，使抽象知识变</tspan><tspan x="517" dy="14.6">得更形象，便于学生理解离子反应的概念、离</tspan><tspan x="517" dy="14.6">子反应发生的条件，突破难点。</tspan></text></g>
<g id="b5-4b3"><rect x="511" y="5400" width="239" height="184"/><text x="517" y="5415.7">3.离子方程式的书写是本节课的难点。为突破<tspan x="517" dy="14.6">该难点，我做如下设计：初学时让学生按书写</tspan><tspan x="517" dy="14.6">步骤进行训练。第二步是正确书写离子反应方</tspan><tspan x="517" dy="14.6">程式的关键和难点。学生的主要错误是不熟悉</tspan><tspan x="517" dy="14.6">，不知道也不熟悉哪些能改写成离子，哪些不</tspan><tspan x="517" dy="14.6">能改写离子，要指导学生复习酸、碱、盐的溶</tspan><tspan x="517" dy="14.6">解性(课本第110页)。采用自学、反馈练习、</tspan><tspan x="517" dy="14.6">纠正错误的方法，使同学们对自己所犯的错误</tspan><tspan x="517" dy="14.6">得到及时的纠正。并且要将书写难点分散到其</tspan><tspan x="517" dy="14.6">他教学环节，在学习离子反应的意义时，设计</tspan><tspan x="517" dy="14.6">练习4个离子方程式的书写。在得出离子反应</tspan><tspan x="517" dy="14.6">发生的条件时，设计练习3个书写。</tspan></text></g>
<g id="b5-5"><rect x="860" y="5617" width="79" height="25"/><text x="866" y="5633.5">五、学习方法</text></g>
<g id="b5-5c"><rect x="601" y="5609" width="239" height="40"/><text x="607" y="5625.7">采用实验探究与交流活动相结合，锻炼学生的<tspan x="607" dy="14.6">思维能力、动手能力，培养学生交流的习惯。</tspan></text></g>
<g id="b5-6"><rect x="850" y="5756" width="89" height="28"/><text x="856" y="5774">六、、教学准备</text></g>
<g id="b5-6a"><rect x="590" y="5674" width="238" height="40"/><text x="596" y="5690.7">1.实验仪器：试管、试管架、胶头滴管、毛刷<tspan x="596" dy="14.6">。</tspan></text></g>
<g id="b5-6b"><rect x="590" y="5739" width="238" height="69"/><text x="596" y="5755.6">2.实验药品：0.5mol/LCuSO4溶液、0.5mol/<tspan x="596" dy="14.6">LKCl溶液、酚酞溶液、0.5mol/LBaCl2溶液、</tspan><tspan x="596" dy="14.6">1mol/LNaOH溶液、1mol/LHCl溶液、0.5m</tspan><tspan x="596" dy="14.6">ol/LNa2CO3溶液。</tspan></text></g>
<g id="b5-6c"><rect x="654" y="5832" width="174" height="26"/><text x="660" y="5849">3.学生准备：4人一组进行实验。</text></g>
<g id="b5-7"><rect x="860" y="5961" width="79" height="29"/><text x="866" y="5979.5">七、教学过程</text></g>
<g id="b5-7a"><rect x="771" y="5962" width="69" height="27"/><text x="777" y="5979.5">总体构思：</text></g>
<g id="b5-7a1"><rect x="511" y="5882" width="239" height="41"/><text x="517" y="5899.2">教学序：创设情境→提出问题→引导探究→实<tspan x="517" dy="14.6">验研究→引导分析→引导归纳→巩固练习</tspan></text></g>
<g id="b5-7a2"><rect x="511" y="5947" width="239" height="41"/><text x="517" y="5964.2">学习序：明确问题→实验研究→分析现象→形<tspan x="517" dy="14.6">成概念→理解应用</tspan></text></g>
<g id="b5-7a3"><rect x="625" y="6034" width="125" height="26"/><text x="631" y="6051">【复习旧课导入新课】</text></g>
<g id="b5-7a3c"><rect x="366" y="6013" width="238" height="69"/><text x="372" y="6029.6">展示硫酸铜溶液和氯化钡溶液，通过学生书写<tspan x="372" dy="14.6">它们的电离方程式，得出它们之间的反应是</tspan><tspan x="372" dy="14.6">——离子反应——引出今天要探讨的课题——</tspan><tspan x="372" dy="14.6">—离子反应及其发生条件。</tspan></text></g>
</g>

<!-- Branch 2 -->
<g id="b2" class="m"><rect x="1447" y="1802" width="198" height="34" rx="2" fill="#44789e"/><text x="1455" y="1824">高二化学教师个人教学设计2</text></g>
<g class="s">
<g id="b2-1"><rect x="1666" y="638" width="57" height="24"/><text x="1672" y="654">一、教材</text></g>
<g id="b2-1a"><rect x="1743" y="531" width="239" height="125"/><text x="1749" y="546.4">该部分内容出自人教版高中化学必修2第三章<tspan x="1749" dy="14.6">第三节的内容，“乙醇”这一部分涉及的内容有</tspan><tspan x="1749" dy="14.6">：乙醇的物理性质、乙醇的化学性质、乙醇的</tspan><tspan x="1749" dy="14.6">结构。在教学时要注意从结构的角度适当深化</tspan><tspan x="1749" dy="14.6">学生对乙醇的认识，建立有机物“(组成)结构</tspan><tspan x="1749" dy="14.6">—性质—用途”的认识关系，使学生了解学习</tspan><tspan x="1749" dy="14.6">和研究有机物的一般方法，形成一定的分析和</tspan><tspan x="1749" dy="14.6">解决问题的能力。</tspan></text></g>
<g id="b2-1b"><rect x="1743" y="679" width="239" height="56"/><text x="1749" y="696.4">(过渡：教师不仅要对教材进行分析，还要对<tspan x="1749" dy="14.6">学生的情况有清晰明了的掌握，这样才能做到</tspan><tspan x="1749" dy="14.6">因材施教，接下来我将对学情进行分析。)</tspan></text></g>
<g id="b2-2"><rect x="1666" y="844" width="57" height="24"/><text x="1672" y="860">二、学情</text></g>
<g id="b2-2a"><rect x="1743" y="759" width="239" height="99"/><text x="1749" y="776">学生在日常生活中已经对乙醇有了一定的认识<tspan x="1749" dy="14.6">，并且乐于去探究物质的奥秘，因此本节课从</tspan><tspan x="1749" dy="14.6">科学探究和生活实际经验入手，充分利用实验</tspan><tspan x="1749" dy="14.6">研究物质的性质与反应，再从结构角度深化认</tspan><tspan x="1749" dy="14.6">识。通过这样的设置培养学生的科学态度和探</tspan><tspan x="1749" dy="14.6">究精神。</tspan></text></g>
<g id="b2-2b"><rect x="1743" y="883" width="239" height="40"/><text x="1749" y="899.7">(过渡：根据新课程标准，教材特点和学生实<tspan x="1749" dy="14.6">际，我确定了如下教学目标：)</tspan></text></g>
<g id="b2-3"><rect x="1666" y="1047" width="79" height="25"/><text x="1672" y="1063.5">三、教学目标</text></g>
<g id="b2-3a"><rect x="1767" y="963" width="90" height="25"/><text x="1773" y="979.5">【知识与技能】</text></g>
<g id="b2-3a1"><rect x="1878" y="947" width="238" height="56"/><text x="1884" y="964.4">知道烃的衍生物;认识到物质的结构与性质之<tspan x="1884" dy="14.6">间的关系;能说出乙醇的物理性质和化学性质;</tspan><tspan x="1884" dy="14.6">能写出乙醇的结构。</tspan></text></g>
<g id="b2-3b"><rect x="1767" y="1035" width="90" height="24"/><text x="1773" y="1051">【过程与方法】</text></g>
<g id="b2-3b1"><rect x="1878" y="1026" width="238" height="42"/><text x="1884" y="1043.7">通过乙醇的结构和性质的学习，建立“(组成)<tspan x="1884" dy="14.6">结构—性质—用途”的有机物学习模式。</tspan></text></g>
<g id="b2-3c"><rect x="1767" y="1132" width="124" height="25"/><text x="1773" y="1148.5">【情感态度与价值观】</text></g>
<g id="b2-3c1"><rect x="1912" y="1092" width="239" height="40"/><text x="1918" y="1108.7">体验科学探究的艰辛和乐趣，逐步形成严谨的<tspan x="1918" dy="14.6">科学态度，认识化学与人类生活的密切关系。</tspan></text></g>
<g id="b2-3c2"><rect x="1912" y="1156" width="239" height="41"/><text x="1918" y="1173.2">(过渡：根据新课标要求与教学目标，我确定<tspan x="1918" dy="14.6">了如下的重难点：)</tspan></text></g>
<g id="b2-4"><rect x="1666" y="1251" width="90" height="25"/><text x="1672" y="1267.5">四、教学重难点</text></g>
<g id="b2-4a"><rect x="1778" y="1222" width="147" height="25"/><text x="1784" y="1238.5">【重点】乙醇的化学性质。</text></g>
<g id="b2-4b"><rect x="1778" y="1279" width="216" height="25"/><text x="1784" y="1295.5">【难点】建立乙醇分子的立体结构模型。</text></g>
<g id="b2-4b1"><rect x="2015" y="1272" width="238" height="40"/><text x="2021" y="1288.7">(过渡：为了解决重点，突破重点，我确定了<tspan x="2021" dy="14.6">如下的教学方法：)</tspan></text></g>
<g id="b2-5"><rect x="1666" y="1365" width="79" height="26"/><text x="1672" y="1382">五、教学方法</text></g>
<g id="b2-5a"><rect x="1767" y="1337" width="113" height="25"/><text x="1773" y="1353.5">实验探究法，讲授法</text></g>
<g id="b2-5b"><rect x="1767" y="1387" width="237" height="39"/><text x="1773" y="1403.2">(过渡：好的教学方法应该在好的教学设计中<tspan x="1773" dy="14.6">应用，接下来我将重点说明我的教学过程。)</tspan></text></g>
<g id="b2-6"><rect x="1666" y="2229" width="79" height="25"/><text x="1672" y="2245.5">六、教学过程</text></g>
<g id="b2-6a"><rect x="1767" y="1785" width="237" height="54"/><text x="1773" y="1801.4">教学过程包括了四个环节：导入新课、新课讲<tspan x="1773" dy="14.6">授、巩固提升、小结作业。我将会这样展开我</tspan><tspan x="1773" dy="14.6">的教学：</tspan></text></g>
<g id="b2-6a1"><rect x="2025" y="1451" width="103" height="26"/><text x="2031" y="1468">环节一：导入新课</text></g>
<g id="b2-6a2"><rect x="2025" y="1501" width="239" height="99"/><text x="2031" y="1518">在这一环节中我会以“乙醇汽油的利与弊”为话<tspan x="2031" dy="14.6">题，请学生谈一谈他们的想法，引发学生对社</tspan><tspan x="2031" dy="14.6">会问题的思考和警醒，培养学生的辩证意识。</tspan><tspan x="2031" dy="14.6">让学生在这个过程中意识到乙醇是一种与我们</tspan><tspan x="2031" dy="14.6">的生活联系密切的有机物，引入对乙醇的学习</tspan><tspan x="2031" dy="14.6">。</tspan></text></g>
<g id="b2-6a3"><rect x="2025" y="1625" width="103" height="26"/><text x="2031" y="1642">环节二：新课讲授</text></g>
<g id="b2-6a4"><rect x="2025" y="1675" width="239" height="40"/><text x="2031" y="1691.7">在这一环节中需要讲解乙醇的物理性质和化学<tspan x="2031" dy="14.6">性质。</tspan></text></g>
<g id="b2-6a5"><rect x="2025" y="1802" width="103" height="25"/><text x="2031" y="1818.5">1.乙醇的物理性质</text></g>
<g id="b2-6a5a"><rect x="2147" y="1740" width="239" height="55"/><text x="2153" y="1757">我会让学生通过观察乙醇的颜色、状态、气味<tspan x="2153" dy="14.6">，结合自己的日常生活经验，得出结论。这一</tspan><tspan x="2153" dy="14.6">设计可以培养学生归纳总结概括的能力。</tspan></text></g>
<g id="b2-6a5b"><rect x="2147" y="1819" width="239" height="84"/><text x="2153" y="1835.8">在讲解乙醇的化学性质之前，我会首先提问学<tspan x="2153" dy="14.6">生乙醇的分子式是什么，它的结构又是怎样的</tspan><tspan x="2153" dy="14.6">。既然物质的结构与性质是有所关联的，那么</tspan><tspan x="2153" dy="14.6">能否通过探究物质的性质推知物质的结构呢，</tspan><tspan x="2153" dy="14.6">从而进入接下来的学习。</tspan></text></g>
<g id="b2-6a6"><rect x="2025" y="2149" width="103" height="24"/><text x="2031" y="2165">2.乙醇的化学性质</text></g>
<g id="b2-6a6a"><rect x="2147" y="1930" width="239" height="40"/><text x="2153" y="1946.7">教材涉及了两个性质：与钠的反应、氧化反应<tspan x="2153" dy="14.6">。</tspan></text></g>
<g id="b2-6a6b"><rect x="2147" y="2163" width="106" height="26"/><text x="2153" y="2180">(1)乙醇与钠的反应</text></g>
<g id="b2-6a6b1"><rect x="2273" y="1993" width="238" height="129"/><text x="2279" y="2010.4">我会首先请学生观看乙醇与钠反应的视频，并<tspan x="2279" dy="14.6">请学生根据这一实验现象判断产物是哪种气体</tspan><tspan x="2279" dy="14.6">。接下来提出钠与烃不能反应，请学生判断乙</tspan><tspan x="2279" dy="14.6">醇分子中的氢的连接方式与烃分子中的氢的连</tspan><tspan x="2279" dy="14.6">接方式是否相同。接着让学生根据乙醇的分子</tspan><tspan x="2279" dy="14.6">式写出乙醇可能的结构简式，并最终通过小组</tspan><tspan x="2279" dy="14.6">讨论确定乙醇的结构简式为。在这里我会指出</tspan><tspan x="2279" dy="14.6">—OH即为羟基。</tspan></text></g>
<g id="b2-6a6b2"><rect x="2273" y="2145" width="238" height="84"/><text x="2279" y="2161.8">在此基础上，我会让学生对比乙醇和乙烷的结<tspan x="2279" dy="14.6">构简式有何不同，由此建立乙醇分子的立体结</tspan><tspan x="2279" dy="14.6">构模型。从中提出烃的衍生物的概念，并且说</tspan><tspan x="2279" dy="14.6">明之前学习的卤代烃、硝基苯都属于烃的衍生</tspan><tspan x="2279" dy="14.6">物，</tspan></text></g>
<g id="b2-6a6b3"><rect x="2273" y="2254" width="238" height="83"/><text x="2279" y="2270.3">物质的结构和性质有着极其紧密的关联，我会<tspan x="2279" dy="14.6">请学生思考为什么乙醇和乙烷的化学性质不同</tspan><tspan x="2279" dy="14.6">，乙醇与钠反应的本质是什么，并写出相应的</tspan><tspan x="2279" dy="14.6">化学方程式，引出有关官能团的学习，由此建</tspan><tspan x="2279" dy="14.6">立有机物“结构—性质”的学习模式。</tspan></text></g>
<g id="b2-6a6c"><rect x="2147" y="2361" width="106" height="26"/><text x="2153" y="2378">(2)乙醇的氧化反应</text></g>
<g id="b2-6b"><rect x="1767" y="2614" width="237" height="112"/><text x="1773" y="2630.2">首先请学生写出乙醇在空气中燃烧的化学方程<tspan x="1773" dy="14.6">式，思考乙醇还能不能发生其他的氧化反应。</tspan><tspan x="1773" dy="14.6">接着请学生自主实验3-3，观察实验现象，根</tspan><tspan x="1773" dy="14.6">据教材判断生成的具有刺激性气味的气体是什</tspan><tspan x="1773" dy="14.6">么，铜丝的作用是什么。并且通过分析铜丝先</tspan><tspan x="1773" dy="14.6">变黑后变红的过程写出由乙醇生成乙醛的化学</tspan><tspan x="1773" dy="14.6">方程式：</tspan></text></g>
<g id="b2-6b1"><rect x="2025" y="2413" width="239" height="83"/><text x="2031" y="2429.3">在这里我会详细讲解在乙醇生成乙醛的过程中<tspan x="2031" dy="14.6">，乙醇分子内的化学键是如何断裂的，由此提</tspan><tspan x="2031" dy="14.6">出新的问题，如果醇经催化氧化能生成醛，醛</tspan><tspan x="2031" dy="14.6">应该具有怎样的结构。在这一过程中培养学生</tspan><tspan x="2031" dy="14.6">的分析与解决问题的能力。</tspan></text></g>
<g id="b2-6b2"><rect x="2025" y="2522" width="239" height="39"/><text x="2031" y="2538.2">最后请学生阅读教材了解其他的有关乙醇、乙<tspan x="2031" dy="14.6">醛、乙酸相互转化的信息。</tspan></text></g>
<g id="b2-6b3"><rect x="2025" y="2585" width="103" height="26"/><text x="2031" y="2602">环节三：巩固提升</text></g>
<g id="b2-6b4"><rect x="2025" y="2636" width="239" height="40"/><text x="2031" y="2652.7">在这一环节我会请学生完成学案上有关乙醇的<tspan x="2031" dy="14.6">题，达到学以致用的目的。</tspan></text></g>
<g id="b2-6b5"><rect x="2025" y="2700" width="103" height="26"/><text x="2031" y="2717">环节四：小结作业</text></g>
<g id="b2-6b6"><rect x="2025" y="2750" width="239" height="69"/><text x="2031" y="2766.6">化学学习不仅要关注学生学习的结果，还要关<tspan x="2031" dy="14.6">心学生学习的过程。课程最后，我会请学生回</tspan><tspan x="2031" dy="14.6">答本堂课的收获有哪些，可以回答学到了哪些</tspan><tspan x="2031" dy="14.6">知识，也可以回答学习的感受。</tspan></text></g>
<g id="b2-6b7"><rect x="2025" y="2845" width="239" height="83"/><text x="2031" y="2861.3">我也会给学生布置开放性的作业，比如将本节<tspan x="2031" dy="14.6">课的知识应用于生活生产中，或者让学生搜集</tspan><tspan x="2031" dy="14.6">相关资料。这一作业的设置也能够体现出化学</tspan><tspan x="2031" dy="14.6">与实际生活的联系，让学生感受到化学的无处</tspan><tspan x="2031" dy="14.6">不在。</tspan></text></g>
<g id="b2-7"><rect x="1666" y="2975" width="79" height="25"/><text x="1672" y="2991.5">七、板书设计</text></g>
<g id="b2-7a"><rect x="1767" y="2954" width="237" height="71"/><text x="1773" y="2971.6">最后说一下我的板书，板书内容包括乙醇的物<tspan x="1773" dy="14.6">理性质、化学性质，乙醇的化学性质有2个，</tspan><tspan x="1773" dy="14.6">我将其提纲挈领地反映在板书里，便于学生清</tspan><tspan x="1773" dy="14.6">楚它们之间的逻辑关系。</tspan></text></g>
</g>

<!-- Branch 4 -->
<g id="b4" class="m"><rect x="1447" y="4157" width="198" height="35" rx="2" fill="#1f3553"/><text x="1455" y="4179.5">高二化学教师个人教学设计4</text></g>
<g class="g">
<g id="b4-1"><rect x="1666" y="3048" width="57" height="25"/><text x="1672" y="3064.5">教学目标</text></g>
<g id="b4-2"><rect x="1666" y="3138" width="89" height="25"/><text x="1672" y="3154.5">1.知识与技能：</text></g>
<g id="b4-2a"><rect x="1777" y="3098" width="237" height="40"/><text x="1783" y="3114.7">(1)知道大气的主要污染物，知道大气污染物<tspan x="1783" dy="14.6">的来源及危害;</tspan></text></g>
<g id="b4-2b"><rect x="1777" y="3162" width="237" height="41"/><text x="1783" y="3179.2">(2)知道酸雨、臭氧空洞、温室效应的形成原<tspan x="1783" dy="14.6">因，危害及防治</tspan></text></g>
<g id="b4-3"><rect x="1666" y="3242" width="89" height="25"/><text x="1672" y="3258.5">2.过程与方法：</text></g>
<g id="b4-3a"><rect x="1777" y="3227" width="237" height="55"/><text x="1783" y="3244">通过对大气主要污染物的认识，了解其来源和<tspan x="1783" dy="14.6">危害，通过分析讨论来培养学生学会运用知识</tspan><tspan x="1783" dy="14.6">的能力，认识到化学知识在生活中的重要性。</tspan></text></g>
<g id="b4-4"><rect x="1666" y="3565" width="122" height="26"/><text x="1672" y="3582">3.情感态度与价值观：</text></g>
<g id="b4-4a"><rect x="1810" y="3306" width="238" height="84"/><text x="1816" y="3322.8">学生分析大气主要污染物的种类、来源、危害<tspan x="1816" dy="14.6">，充分认识到人类生活与自然界的矛盾，充分</tspan><tspan x="1816" dy="14.6">认识到科学发展的局限性，从而进一步领悟科</tspan><tspan x="1816" dy="14.6">学发展观的深刻内涵，树立用科学来促进人与</tspan><tspan x="1816" dy="14.6">自然的和谐关系。</tspan></text></g>
<g id="b4-4b"><rect x="1810" y="3415" width="193" height="25"/><text x="1816" y="3431.5">教学重点：大气主要污染物及其危害</text></g>
<g id="b4-4c"><rect x="1810" y="3466" width="238" height="40"/><text x="1816" y="3482.7">教学难点：减少或消除酸雨、臭氧空洞、温室<tspan x="1816" dy="14.6">效应的方法</tspan></text></g>
<g id="b4-4d"><rect x="1810" y="3530" width="101" height="26"/><text x="1816" y="3547">教学用具：多媒体</text></g>
<g id="b4-4e"><rect x="1810" y="3580" width="238" height="26"/><text x="1816" y="3597">教学方法：阅读、交流、讨论、联系实际生活</text></g>
<g id="b4-4f"><rect x="1810" y="3692" width="124" height="25"/><text x="1816" y="3708.5">【创设情境导入新课】</text></g>
<g id="b4-4f1"><rect x="1955" y="3692" width="80" height="25"/><text x="1961" y="3708.5">多媒体展示：</text></g>
<g id="b4-4f1a"><rect x="2056" y="3630" width="238" height="40"/><text x="2062" y="3646.7">垣曲县历山视频，山西太原雾霾视频从而导入<tspan x="2062" dy="14.6">新课齐声诵读《我们和地球相依为命》</tspan></text></g>
<g id="b4-4f1b"><rect x="2056" y="3695" width="136" height="26"/><text x="2062" y="3712">课题第四章保护生存环境</text></g>
<g id="b4-4f1c"><rect x="2056" y="3745" width="113" height="26"/><text x="2062" y="3762">第一节改善大气质量</text></g>
<g id="b4-4f1d"><rect x="2190" y="3745" width="114" height="26"/><text x="2196" y="3762">一、大气污染的危害</text></g>
<g id="b4-4g"><rect x="1810" y="3796" width="101" height="26"/><text x="1816" y="3813">【出示学习目标】</text></g>
<g id="b4-5"><rect x="1666" y="3846" width="202" height="25"/><text x="1672" y="3862.5">1.知道大气主要污染物及其来源、危害</text></g>
<g id="b4-6"><rect x="1666" y="3895" width="238" height="41"/><text x="1672" y="3912.2">2.知道酸雨、臭氧空洞、温室效应产生的原因<tspan x="1672" dy="14.6">、造成的危害及防治</tspan></text></g>
<g id="b4-6a"><rect x="1926" y="3905" width="210" height="24"/><text x="1932" y="3921">【自主学习合作交流1】大气污染的危害</text></g>
<g id="b4-6b"><rect x="2158" y="3895" width="238" height="41"/><text x="2164" y="3912.2">学生阅读课本P72—73相关内容讨论回答下<tspan x="2164" dy="14.6">列问题：</tspan></text></g>
<g id="b4-7"><rect x="1666" y="3961" width="160" height="26"/><text x="1672" y="3978">1、干燥洁净空气的组成成分?</text></g>
<g id="b4-8"><rect x="1666" y="4011" width="160" height="26"/><text x="1672" y="4028">2、主要的大气污染物有哪些?</text></g>
<g id="b4-9"><rect x="1666" y="4062" width="148" height="25"/><text x="1672" y="4078.5">3、大气污染物的主要来源?</text></g>
<g id="b4-10"><rect x="1666" y="4148" width="115" height="26"/><text x="1672" y="4165">4、大气污染的危害?</text></g>
<g id="b4-10a"><rect x="1801" y="4112" width="238" height="41"/><text x="1807" y="4129.2">学生阅读，学习讨论交流后回答，教师点评补<tspan x="1807" dy="14.6">充。</tspan></text></g>
<g id="b4-10b"><rect x="1801" y="4177" width="155" height="26"/><text x="1807" y="4194">【自主学习合作交流2】酸雨</text></g>
<g id="b4-10c"><rect x="1976" y="4177" width="224" height="26"/><text x="1982" y="4194">阅读课本P73相关内容讨论回答下列问题：</text></g>
<g id="b4-11"><rect x="1666" y="4226" width="238" height="40"/><text x="1672" y="4242.7">1、什么是酸雨?它是怎样形成的?请用化学方<tspan x="1672" dy="14.6">程式来表示酸雨的形成过程?</tspan></text></g>
<g id="b4-12"><rect x="1666" y="4291" width="115" height="26"/><text x="1672" y="4308">2、酸雨有哪些危害?</text></g>
<g id="b4-13"><rect x="1666" y="4378" width="81" height="25"/><text x="1672" y="4394.5">3、如何防治?</text></g>
<g id="b4-13a"><rect x="1767" y="4341" width="238" height="41"/><text x="1773" y="4358.2">学生阅读，学习讨论交流后回答，教师点评补<tspan x="1773" dy="14.6">充。</tspan></text></g>
<g id="b4-13b"><rect x="1767" y="4406" width="189" height="26"/><text x="1773" y="4423">【自主学习合作交流3】臭氧层受损</text></g>
<g id="b4-13c"><rect x="1976" y="4406" width="212" height="26"/><text x="1982" y="4423">阅读教材P74“臭氧层受损”内容，回答：</text></g>
<g id="b4-14"><rect x="1666" y="4457" width="126" height="26"/><text x="1672" y="4474">1、臭氧层有何作用呢?</text></g>
<g id="b4-15"><rect x="1666" y="4507" width="216" height="26"/><text x="1672" y="4524">2、什么原因导致了“臭氧空洞”的形成呢?</text></g>
<g id="b4-16"><rect x="1666" y="4557" width="148" height="26"/><text x="1672" y="4574">3、臭氧层受损造成的危害?</text></g>
<g id="b4-17"><rect x="1666" y="4819" width="232" height="27"/><text x="1672" y="4836.5">4、为了保护臭氧层，人类采取了哪些措施?</text></g>
<g id="b4-17a"><rect x="1915" y="4607" width="238" height="41"/><text x="1921" y="4624.2">学生阅读，学习讨论交流后回答，教师点评补<tspan x="1921" dy="14.6">充、引导分析</tspan></text></g>
<g id="b4-17b"><rect x="1915" y="4672" width="176" height="26"/><text x="1921" y="4689">氟氯代烷是如何破坏臭氧层的呢?</text></g>
<g id="b4-17c"><rect x="1915" y="4723" width="72" height="25"/><text x="1921" y="4739.5">O3→O2+O</text></g>
<g id="b4-17d"><rect x="1915" y="4773" width="100" height="25"/><text x="1921" y="4789.5">Cl+O3→ClO+O2</text></g>
<g id="b4-17e"><rect x="1915" y="4822" width="95" height="26"/><text x="1921" y="4839">ClO+O→Cl+O2</text></g>
<g id="b4-17f"><rect x="1915" y="4873" width="136" height="26"/><text x="1921" y="4890">总反应式为：2O3→3O2</text></g>
<g id="b4-17g"><rect x="1915" y="4941" width="238" height="40"/><text x="1921" y="4957.7">【自主学习合作交流4】温室效应和全球气候<tspan x="1921" dy="14.6">变暖</tspan></text></g>
<g id="b4-17g1"><rect x="2174" y="4923" width="189" height="26"/><text x="2180" y="4940">阅读教材P76完成“思考与交流”内容</text></g>
<g id="b4-17g2"><rect x="2174" y="4974" width="204" height="26"/><text x="2180" y="4991">学生讨论交流后回答，教师点评补充。</text></g>
<g id="b4-17h"><rect x="1915" y="5023" width="79" height="27"/><text x="1921" y="5040.5">【课堂小结】</text></g>
<g id="b4-17h1"><rect x="2015" y="5023" width="113" height="27"/><text x="2021" y="5040.5">一、大气污染的危害</text></g>
<g id="b4-18"><rect x="1666" y="5117" width="238" height="40"/><text x="1672" y="5133.7">1.酸雨2.臭氧层受损3.温室效应与全球气候变<tspan x="1672" dy="14.6">暖</tspan></text></g>
<g id="b4-18a"><rect x="1925" y="5074" width="71" height="26"/><text x="1931" y="5091">(1)形成原因</text></g>
<g id="b4-18b"><rect x="1925" y="5124" width="48" height="26"/><text x="1931" y="5141">(2)危害</text></g>
<g id="b4-18c"><rect x="1925" y="5174" width="48" height="26"/><text x="1931" y="5191">(3)防治</text></g>
<g id="b4-18c1"><rect x="1995" y="5174" width="79" height="26"/><text x="2001" y="5191">【学以致用】</text></g>
<g id="b4-19"><rect x="1666" y="5224" width="106" height="27"/><text x="1672" y="5241.5">1、P72思考与交流</text></g>
<g id="b4-20"><rect x="1666" y="5274" width="150" height="27"/><text x="1672" y="5291.5">2、课后作业：P811、2、3</text></g>
<g id="b4-20a"><rect x="1836" y="5274" width="79" height="27"/><text x="1842" y="5291.5">【课后拓展】</text></g>
<g id="b4-20b"><rect x="1936" y="5274" width="193" height="27"/><text x="1942" y="5291.5">查阅资料，了解世界八大公害事件。</text></g>
</g>

<!-- Related -->
<g id="rel" class="m"><rect x="1447" y="5537" width="241" height="54" rx="2" fill="#e0363f"/><text x="1455" y="5559" style="font-size:14.3px">高二化学教师个人教学设计相关文<tspan x="1455" dy="19.5">章：</tspan></text></g>
<g class="p">
<g id="rel-1"><rect x="1709" y="5326" width="205" height="25"/><text x="1715" y="5342.5">★ 关于高中化学教师个人教学设计方案</text></g>
<g id="rel-2"><rect x="1709" y="5376" width="156" height="26"/><text x="1715" y="5393">★ 高二化学优秀教学设计5篇</text></g>
<g id="rel-3"><rect x="1709" y="5426" width="179" height="26"/><text x="1715" y="5443">★ 关于高二化学学科教学设计5篇</text></g>
<g id="rel-4"><rect x="1709" y="5476" width="156" height="26"/><text x="1715" y="5493">★ 高中化学课堂教学设计5篇</text></g>
<g id="rel-5"><rect x="1709" y="5526" width="172" height="26"/><text x="1715" y="5543">★ 优秀高二化学教研组教学设计</text></g>
<g id="rel-6"><rect x="1709" y="5577" width="161" height="26"/><text x="1715" y="5594">★ 关于高二化学教学设计案例</text></g>
<g id="rel-7"><rect x="1709" y="5627" width="167" height="26"/><text x="1715" y="5644">★ 新学期高中化学教学设计5篇</text></g>
<g id="rel-8"><rect x="1709" y="5677" width="156" height="26"/><text x="1715" y="5694">★ 高中化学教学案例设计5篇</text></g>
<g id="rel-9"><rect x="1709" y="5727" width="187" height="26"/><text x="1715" y="5744">★ 2021高二化学选修课程教学设计</text></g>
<g id="rel-10"><rect x="1709" y="5777" width="156" height="26"/><text x="1715" y="5794">★ 高二化学教学设计5篇</text></g>
</g>
</g>
</svg>
